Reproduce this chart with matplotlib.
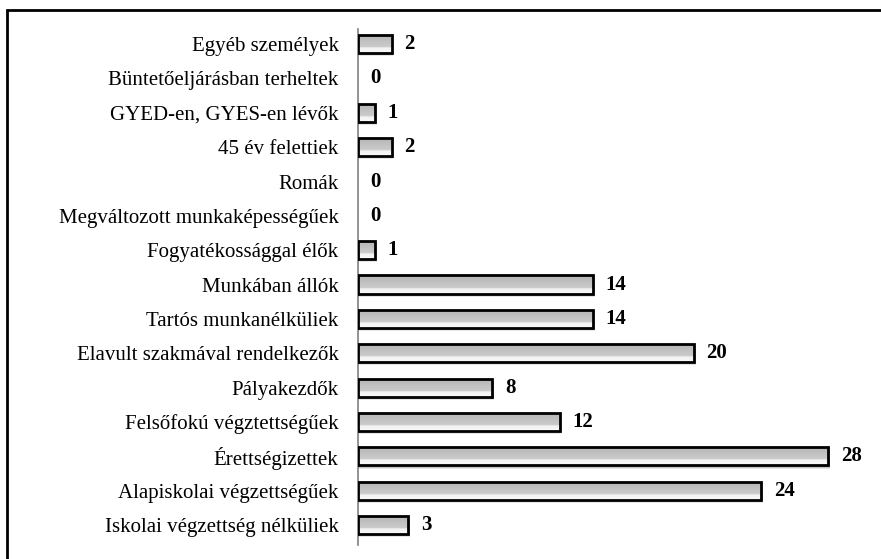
import numpy as np
import matplotlib
matplotlib.use('Agg')
import matplotlib.pyplot as plt
from matplotlib.patches import Rectangle

# categories listed from bottom to top
categories = ['Iskolai végzettség nélküliek', 'Alapiskolai végzettségűek', 'Érettségizettek',
              'Felsőfokú végztettségűek', 'Pályakezdők', 'Elavult szakmával rendelkezők',
              'Tartós munkanélküliek', 'Munkában állók', 'Fogyatékossággal élők',
              'Megváltozott munkaképességűek', 'Romák', '45 év felettiek',
              'GYED-en, GYES-en lévők', 'Büntetőeljárásban terheltek', 'Egyéb személyek']
values = [3, 24, 28, 12, 8, 20, 14, 14, 1, 0, 0, 2, 1, 0, 2]

plt.rcParams['font.family'] = ['Liberation Serif', 'DejaVu Serif']

W, H = 881, 559
fig = plt.figure(figsize=(W / 100, H / 100), dpi=100)
ax = fig.add_axes([358 / W, 1 - 545 / H, 504 / W, (545 - 29) / H])

bar_h = 0.53
ypos = np.arange(len(categories))

# vertical gradient used to fill each bar (light top, grey bottom)
grad = np.concatenate([np.linspace(0.98, 0.94, 30), np.linspace(0.80, 0.70, 70)])
grad = grad.reshape(-1, 1)

for y, v in zip(ypos, values):
    if v > 0:
        # soft shadow
        for k, a in zip([0.18, 0.12, 0.06], [0.10, 0.15, 0.2]):
            sh = Rectangle((0, y - bar_h / 2 - k * 0.5), v + k * 0.6, bar_h, facecolor='black',
                           edgecolor='none', alpha=a, zorder=1)
            ax.add_patch(sh)
        rect = Rectangle((0, y - bar_h / 2), v, bar_h, facecolor='none', edgecolor='black',
                         linewidth=2.0, zorder=4)
        ax.add_patch(rect)
        im = ax.imshow(grad, cmap='gray', vmin=0, vmax=1, aspect='auto',
                       extent=(0, v, y + bar_h / 2, y - bar_h / 2), zorder=3,
                       interpolation='bilinear')
        im.set_clip_path(rect)
    ax.text(v + 0.75, y, str(v), ha='left', va='center', fontsize=15,
            fontweight='bold', zorder=5)

ax.set_xlim(0, 30)
ax.set_ylim(-0.58, 14.44)
ax.set_yticks(ypos)
ax.set_yticklabels(categories, fontsize=15)
ax.tick_params(axis='y', length=0, pad=14)
ax.set_xticks([])
for s in ['top', 'right', 'bottom']:
    ax.spines[s].set_visible(False)
ax.spines['left'].set_color('#808080')
ax.spines['left'].set_linewidth(1.2)

# outer border of the chart area
fig.patches.append(Rectangle((7 / W, 1 - 10 / H - 2), 2, 2, transform=fig.transFigure,
                             fill=False, edgecolor='black', linewidth=2))

fig.savefig('out.png', dpi=100)
